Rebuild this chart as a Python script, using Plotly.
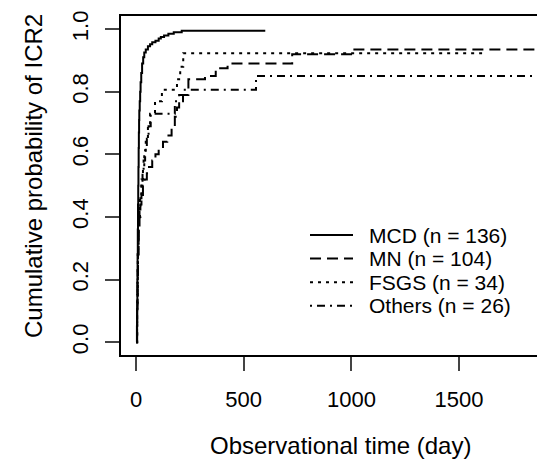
import plotly.graph_objects as go

# ---- data ----
groups = ["MCD (n = 136)", "MN (n = 104)", "FSGS (n = 34)", "Others (n = 26)"]

mcd_t = [0, 4, 5, 6, 7, 8, 9, 10, 11, 12, 13, 14, 15, 17, 19, 21, 24, 28, 33, 38, 45, 55, 65, 75, 90, 105, 115, 130, 150, 175, 212, 600]
mcd_p = [0, 0.05, 0.12, 0.2, 0.28, 0.36, 0.44, 0.5, 0.56, 0.62, 0.67, 0.71, 0.74, 0.77, 0.8, 0.83, 0.86, 0.89, 0.91, 0.925, 0.935, 0.945, 0.952, 0.958, 0.963, 0.97, 0.975, 0.98, 0.985, 0.99, 0.995, 0.995]

mn_t = [0, 5, 7, 9, 12, 16, 20, 25, 32, 40, 50, 60, 75, 90, 105, 125, 145, 165, 180, 190, 200, 243, 320, 370, 425, 725, 1008, 1900]
mn_p = [0, 0.1, 0.2, 0.28, 0.35, 0.4, 0.44, 0.47, 0.5, 0.52, 0.54, 0.56, 0.58, 0.6, 0.62, 0.64, 0.66, 0.69, 0.72, 0.75, 0.79, 0.84, 0.85, 0.875, 0.89, 0.92, 0.935, 0.935]

fsgs_t = [0, 5, 8, 12, 18, 25, 32, 38, 45, 55, 65, 88, 120, 190, 205, 219, 1607]
fsgs_p = [0, 0.15, 0.3, 0.4, 0.47, 0.52, 0.56, 0.6, 0.65, 0.69, 0.73, 0.77, 0.806, 0.84, 0.88, 0.923, 0.923]

oth_t = [0, 5, 7, 9, 12, 16, 20, 25, 30, 35, 42, 50, 58, 68, 180, 218, 557, 1900]
oth_p = [0, 0.12, 0.23, 0.31, 0.38, 0.42, 0.46, 0.5, 0.54, 0.58, 0.62, 0.65, 0.69, 0.73, 0.77, 0.806, 0.85, 0.85]

x_ticks = [0, 500, 1000, 1500]
y_ticks = [0.0, 0.2, 0.4, 0.6, 0.8, 1.0]
x_title = "Observational time (day)"
y_title = "Cumulative probability of ICR2"

series = [(mcd_t, mcd_p), (mn_t, mn_p), (fsgs_t, fsgs_p), (oth_t, oth_p)]
dashes = ["solid", "11px,6px", "3px,5px", "2px,5px,8px,5px"]

FONT = "Liberation Sans, Arial, sans-serif"
W, H = 537, 468
L, R, T, B = 121, 0, 16, 113
pw, ph = W - L - R, H - T - B


def px(x):
    return (x - L) / pw


def py(y):
    return (H - B - y) / ph


fig = go.Figure()
for name, (t, p), d in zip(groups, series, dashes):
    fig.add_trace(go.Scatter(x=t, y=p, mode="lines", line_shape="hv", name=name,
                             line=dict(color="black", width=2, dash=d), showlegend=False))

# manual legend (R style)
leg_y = [235, 258.6, 282.2, 305.8]
for name, d, yy in zip(groups, dashes, leg_y):
    fig.add_shape(type="line", xref="paper", yref="paper", x0=px(310), x1=px(353), y0=py(yy), y1=py(yy),
                  line=dict(color="black", width=2, dash=d))
    fig.add_annotation(xref="paper", yref="paper", x=px(368), y=py(yy), text=name, showarrow=False,
                       xanchor="left", yanchor="middle", borderpad=0,
                       font=dict(family=FONT, size=21, color="black"))

fig.add_annotation(xref="paper", yref="paper", x=px(340), y=py(446), text=x_title, showarrow=False,
                   xanchor="center", yanchor="middle", font=dict(family=FONT, size=24, color="black"))
fig.add_annotation(xref="paper", yref="paper", x=px(33), y=py(176), text=y_title, showarrow=False, textangle=-90,
                   xanchor="center", yanchor="middle", font=dict(family=FONT, size=24, color="black"))

fig.update_layout(
    width=W, height=H, margin=dict(l=L, r=R, t=T, b=B),
    paper_bgcolor="white", plot_bgcolor="white",
    font=dict(family=FONT, size=22, color="black"),
)
fig.update_xaxes(range=[-70, 1862], tickvals=x_ticks, ticks="outside", ticklen=14, tickwidth=2,
                 showline=True, linewidth=2, linecolor="black", mirror=True, showgrid=False, zeroline=False,
                 ticklabelstandoff=10)
fig.update_yaxes(range=[-0.041, 1.042], tickvals=y_ticks, tickformat=".1f", ticks="outside", ticklen=14,
                 tickwidth=2, tickangle=-90, showline=True, linewidth=2, linecolor="black", mirror=False,
                 showgrid=False, zeroline=False, ticklabelstandoff=8)

fig.write_html("out.html", config={"displayModeBar": False},
               post_script="document.body.style.margin='0px';document.body.style.overflow='hidden';")
